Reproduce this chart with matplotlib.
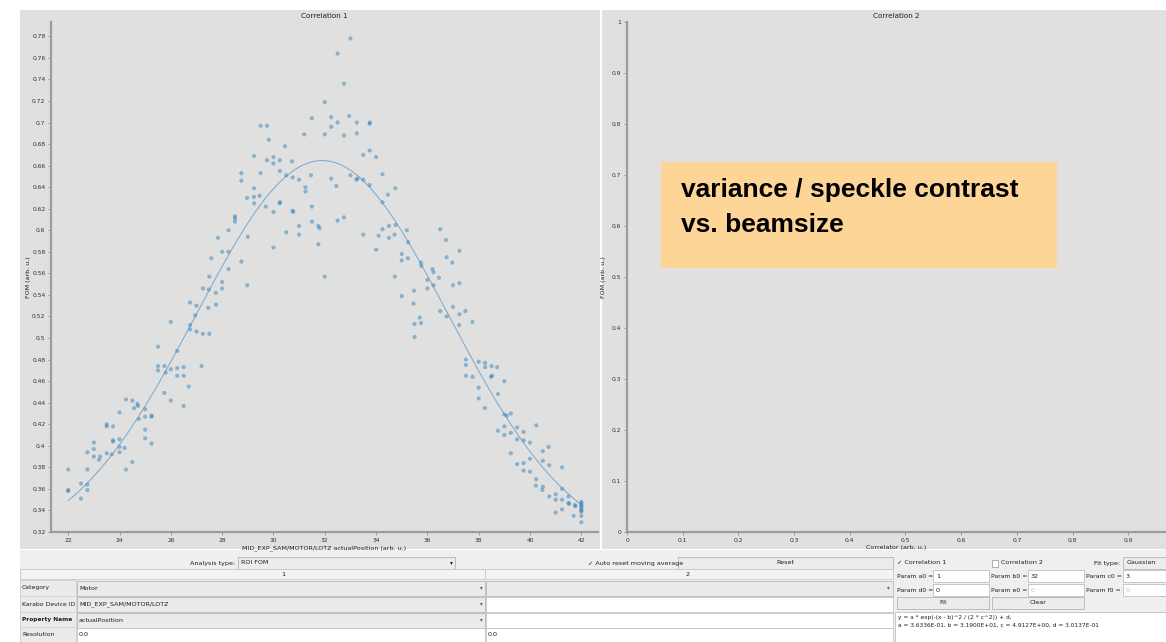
import numpy as np
import matplotlib
matplotlib.use("Agg")
import matplotlib.pyplot as plt
from matplotlib.patches import Rectangle

# motor position (arb. u.) and ROI FOM for every recorded train
position = [
    22.0, 22.0, 22.0, 22.5, 22.5, 22.75, 22.75, 22.75, 22.75,
    23.0, 23.0, 23.0, 23.2, 23.25, 23.5, 23.5, 23.5,
    23.75, 23.75, 23.75, 23.7, 24.0, 24.0, 24.0, 24.0,
    24.2, 24.25, 24.25, 24.5, 24.5, 24.57, 24.7, 24.72, 24.75,
    25.0, 25.0, 25.0, 25.0, 25.25, 25.25, 25.25,
    25.5, 25.5, 25.5, 25.75, 25.75, 25.8, 26.0, 26.0, 26.0,
    26.25, 26.25, 26.25, 26.5, 26.5, 26.5, 26.7, 26.75, 26.75, 26.75,
    26.95, 27.0, 27.0, 27.25, 27.25, 27.2,
    27.48, 27.46, 27.5, 27.5, 27.58, 27.75, 27.76, 27.84,
    28.0, 28.0, 28.0, 28.25, 28.25, 28.25, 28.5, 28.5, 28.5,
    28.75, 28.75, 28.75, 28.97, 29.0, 28.98,
    29.24, 29.24, 29.24, 29.25, 29.46, 29.5, 29.5,
    29.75, 29.82, 29.75, 29.7, 30.0, 30.0, 30.0, 30.0,
    30.25, 30.25, 30.24, 30.26, 30.45, 30.5, 30.5,
    30.72, 30.75, 30.75, 30.77, 31.0, 31.0, 31.0,
    31.2, 31.25, 31.25, 31.46, 31.5, 31.5, 31.5,
    31.75, 31.8, 31.75, 32.0, 32.0, 32.0,
    32.25, 32.25, 32.25, 32.45, 32.5, 32.5, 32.5,
    32.75, 32.75, 32.75, 33.0, 32.95, 33.0,
    33.25, 33.25, 33.23, 33.28, 33.5, 33.5, 33.5,
    33.75, 33.76, 33.75, 33.75, 34.0, 34.0, 34.1,
    34.25, 34.25, 34.25, 34.46, 34.5, 34.5,
    34.72, 34.75, 34.76, 34.73, 35.0, 35.0, 35.0,
    35.2, 35.25, 35.24, 35.48, 35.46, 35.5, 35.5,
    35.75, 35.76, 35.7, 35.75, 36.0, 36.0,
    36.2, 36.24, 36.24, 36.45, 36.5, 36.5,
    36.72, 36.75, 36.75, 36.97, 37.0, 37.0,
    37.25, 37.25, 37.25, 37.24, 37.48, 37.5, 37.5, 37.5,
    37.76, 37.76, 38.0, 38.0, 38.0,
    38.24, 38.25, 38.25, 38.5, 38.48, 38.52,
    38.72, 38.75, 38.75, 39.0, 39.0, 39.0, 39.0,
    39.1, 39.25, 39.25, 39.25, 39.5, 39.5, 39.5,
    39.75, 39.75, 39.75, 39.75, 40.0, 40.0, 40.0,
    40.25, 40.24, 40.23, 40.5, 40.5, 40.5, 40.48,
    40.72, 40.75, 40.75, 41.0, 41.0, 41.0,
    41.25, 41.25, 41.25, 41.25, 41.5, 41.5, 41.52,
    41.75, 41.77, 41.7,
    42.0, 42.0, 42.0, 42.0, 42.0, 42.0, 42.0, 42.0, 42.0,
]
fom = [
    0.378, 0.359, 0.358, 0.365, 0.351, 0.378, 0.364, 0.359, 0.394,
    0.403, 0.397, 0.390, 0.387, 0.390, 0.418, 0.420, 0.393,
    0.418, 0.405, 0.404, 0.392, 0.431, 0.406, 0.399, 0.394,
    0.398, 0.443, 0.378, 0.385, 0.442, 0.435, 0.439, 0.437, 0.425,
    0.434, 0.427, 0.415, 0.407, 0.428, 0.427, 0.402,
    0.492, 0.474, 0.470, 0.449, 0.474, 0.468, 0.515, 0.471, 0.442,
    0.488, 0.472, 0.465, 0.473, 0.465, 0.437, 0.455, 0.533, 0.512, 0.508,
    0.521, 0.530, 0.506, 0.546, 0.504, 0.474,
    0.545, 0.528, 0.504, 0.557, 0.574, 0.542, 0.531, 0.593,
    0.546, 0.552, 0.580, 0.580, 0.600, 0.564, 0.613, 0.611, 0.608,
    0.653, 0.646, 0.571, 0.630, 0.594, 0.549,
    0.669, 0.639, 0.631, 0.625, 0.632, 0.653, 0.697,
    0.697, 0.684, 0.665, 0.622, 0.668, 0.662, 0.617, 0.584,
    0.665, 0.655, 0.625, 0.626, 0.678, 0.651, 0.598,
    0.664, 0.649, 0.618, 0.617, 0.647, 0.604, 0.596,
    0.689, 0.640, 0.636, 0.651, 0.704, 0.622, 0.608,
    0.604, 0.602, 0.587, 0.719, 0.689, 0.557,
    0.705, 0.696, 0.648, 0.641, 0.700, 0.764, 0.609,
    0.736, 0.688, 0.612, 0.778, 0.706, 0.651,
    0.700, 0.690, 0.647, 0.648, 0.647, 0.670, 0.596,
    0.699, 0.700, 0.674, 0.642, 0.668, 0.582, 0.595,
    0.652, 0.626, 0.601, 0.633, 0.604, 0.593,
    0.596, 0.639, 0.605, 0.557, 0.578, 0.572, 0.539,
    0.600, 0.589, 0.574, 0.544, 0.532, 0.513, 0.501,
    0.570, 0.567, 0.519, 0.514, 0.546, 0.554,
    0.564, 0.561, 0.549, 0.556, 0.601, 0.525,
    0.591, 0.575, 0.520, 0.570, 0.549, 0.529,
    0.581, 0.551, 0.522, 0.512, 0.525, 0.480, 0.475, 0.465,
    0.515, 0.464, 0.478, 0.454, 0.444,
    0.435, 0.477, 0.473, 0.474, 0.464, 0.465,
    0.473, 0.448, 0.414, 0.460, 0.429, 0.418, 0.410,
    0.428, 0.430, 0.412, 0.393, 0.417, 0.406, 0.383,
    0.413, 0.405, 0.384, 0.377, 0.403, 0.376, 0.388,
    0.419, 0.369, 0.363, 0.395, 0.386, 0.362, 0.359,
    0.399, 0.382, 0.353, 0.355, 0.350, 0.338,
    0.380, 0.360, 0.350, 0.341, 0.353, 0.347, 0.346,
    0.345, 0.344, 0.335,
    0.348, 0.3465, 0.345, 0.3435, 0.342, 0.340, 0.339, 0.335, 0.329,
]

# gaussian fit result: y = a * exp(-(x - b)^2 / (2 * c^2)) + d
fit_a, fit_b, fit_c, fit_d = 3.6336e-01, 3.1900e+01, 4.9127e+00, 3.0137e-01

W, H = 1166, 642
fig = plt.figure(figsize=(W / 100, H / 100), dpi=100)
plt.rcParams['font.family'] = ['DejaVu Sans']

# pixel-space canvas for the window chrome
bg = fig.add_axes([0, 0, 1, 1], zorder=0)
bg.set_xlim(0, W)
bg.set_ylim(H, 0)
bg.axis('off')


def box(x0, y0, x1, y1, fc, ec='none', lw=0.6, ax=bg):
    ax.add_patch(Rectangle((x0, y0), x1 - x0, y1 - y0, facecolor=fc,
                           edgecolor=ec, linewidth=lw))


def txt(x, y, s, size=4.6, ha='left', color='#1e1e1e', ax=bg, **kw):
    ax.text(x, y, s, fontsize=size, ha=ha, va='center', color=color, **kw)


# plot widget backgrounds
box(20, 10, 600, 549, '#e0e0e0')
box(602, 10, 1166, 549, '#e0e0e0')


def style(ax):
    ax.set_facecolor('#e0e0e0')
    for s in ['top', 'right']:
        ax.spines[s].set_visible(False)
    for s in ['left', 'bottom']:
        ax.spines[s].set_color('#9c9c9c')
        ax.spines[s].set_linewidth(1.6)
    ax.tick_params(labelsize=4.3, length=2.5, width=0.6, color='#8c8c8c',
                   labelcolor='#303030', pad=1.5)


# Correlation 1: FOM vs motor position with gaussian fit
ax1 = fig.add_axes([51 / W, 1 - 532 / H, 547 / W, 510 / H], zorder=1)
style(ax1)
ax1.scatter(position, fom, s=9, color='#1f77b4', alpha=0.45, edgecolors='none')
xf = np.linspace(min(position), max(position), 300)
yf = fit_a * np.exp(-(xf - fit_b) ** 2 / (2 * fit_c ** 2)) + fit_d
ax1.plot(xf, yf, color='#4a90c8', lw=0.7, alpha=0.7)
ax1.set_xlim(21.33, 42.65)
ax1.set_ylim(0.32, 0.7933)
ax1.set_xticks(np.arange(22, 43, 2))
yt = np.round(np.arange(0.32, 0.781, 0.02), 2)
ax1.set_yticks(yt)
ax1.set_yticklabels([f"{v:g}" for v in yt])
ax1.set_title('Correlation 1', fontsize=5.2, pad=3, color='#202020')
ax1.set_xlabel('MID_EXP_SAM/MOTOR/LOTZ actualPosition (arb. u.)',
               fontsize=4.6, labelpad=2, color='#202020')
ax1.set_ylabel('FOM (arb. u.)', fontsize=4.6, labelpad=1, color='#202020')

# Correlation 2: empty
ax2 = fig.add_axes([627 / W, 1 - 532 / H, 539 / W, 510 / H], zorder=1)
style(ax2)
ax2.set_xlim(0, 0.9677)
ax2.set_ylim(0, 1.0)
xt = np.round(np.arange(0, 0.91, 0.1), 1)
ax2.set_xticks(xt)
ax2.set_xticklabels([f"{v:g}" for v in xt])
yt2 = np.round(np.arange(0, 1.01, 0.1), 1)
ax2.set_yticks(yt2)
ax2.set_yticklabels([f"{v:g}" for v in yt2])
ax2.set_title('Correlation 2', fontsize=5.2, pad=3, color='#202020')
ax2.set_xlabel('Correlator (arb. u.)', fontsize=4.6, labelpad=2, color='#202020')
ax2.set_ylabel('FOM (arb. u.)', fontsize=4.6, labelpad=4, color='#202020')

# annotation box on top of the second plot
top = fig.add_axes([0, 0, 1, 1], zorder=5)
top.set_xlim(0, W)
top.set_ylim(H, 0)
top.axis('off')
box(661, 162, 1057, 268, '#fdd597', ax=top)
top.text(681, 178, 'variance / speckle contrast\nvs. beamsize', fontsize=19,
         fontweight='bold', family='Liberation Sans', ha='left', va='top',
         linespacing=1.6, color='black')

# control panel
box(20, 550, 1166, 642, '#efefef')
txt(235, 563, 'Analysis type:', ha='right')
box(238, 557, 455, 569, '#ececec', '#b4b4b4')
txt(241, 563, 'ROI FOM')
txt(451, 563, '▾', ha='center', size=4)
txt(588, 563, '✓ Auto reset moving average')
box(678, 557, 893, 569, '#ececec', '#b4b4b4')
txt(785, 563, 'Reset', ha='center')

box(20, 569, 485, 579, '#f3f3f3', '#c8c8c8')
box(485, 569, 893, 579, '#f3f3f3', '#c8c8c8')
txt(283, 574, '1', ha='center')
txt(688, 574, '2', ha='center')

row_names = ['Category', 'Karabo Device ID', 'Property Name', 'Resolution']
col1_values = ['Motor', 'MID_EXP_SAM/MOTOR/LOTZ', 'actualPosition', '0.0']
col2_values = ['', '', '', '0.0']
row_y = [588, 604, 620, 635]
for i, yc in enumerate(row_y):
    y0, y1 = yc - 8, yc + 8
    box(20, y0, 76, y1, '#ebebeb', '#d0d0d0')
    if i == 2:
        txt(22, yc, row_names[i], size=4.2, fontweight='bold')
    else:
        txt(22, yc, row_names[i], size=4.4)
    if i < 3:
        box(77, y0 + 0.5, 485, y1 - 0.5, '#ebebeb', '#b8b8b8')
        txt(481, yc, '▾', ha='center', size=4, color='#606060')
    else:
        box(77, y0 + 0.5, 485, y1 - 0.5, 'white', '#c4c4c4')
    txt(79, yc, col1_values[i])
    if i == 0:
        box(486, y0 + 0.5, 893, y1 - 0.5, '#ebebeb', '#b8b8b8')
        txt(888, yc, '▾', ha='center', size=4, color='#606060')
    else:
        box(486, y0 + 0.5, 893, y1 - 0.5, 'white', '#c4c4c4')
    txt(488, yc, col2_values[i])

# fit controls
txt(897, 563, '✓ Correlation 1')
box(992, 559.5, 998, 566.5, 'white', '#909090', lw=0.5)
txt(1001, 563, 'Correlation 2')
txt(1120, 563, 'Fit type:', ha='right')
box(1123, 557, 1166, 569, '#ececec', '#b4b4b4')
txt(1127, 563, 'Gaussian')

params = [
    [('Param a0 = ', '1', True), ('Param b0 = ', '32', True), ('Param c0 = ', '3', True)],
    [('Param d0 = ', '0', True), ('Param e0 = ', '0', False), ('Param f0 = ', '0', False)],
]
param_cols = [(897, 933, 989), (991, 1028, 1084), (1086, 1123, 1166)]
for yc, row in zip([576, 590], params):
    for (name, val, enabled), (xl, xb0, xb1) in zip(row, param_cols):
        txt(xl, yc, name, size=4.4)
        box(xb0, yc - 6, xb1, yc + 6, 'white', '#c0c0c0')
        txt(xb0 + 3, yc, val, color='#1e1e1e' if enabled else '#c0c0c0')

box(897, 597, 989, 609, '#ececec', '#b4b4b4')
txt(943, 603, 'Fit', ha='center')
box(992, 597, 1084, 609, '#ececec', '#b4b4b4')
txt(1038, 603, 'Clear', ha='center')

box(895, 612, 1166, 642, 'white', '#c0c0c0')
txt(898, 618, 'y = a * exp(-(x - b)^2 / (2 * c^2)) + d,', size=4.2)
txt(898, 625, f'a = {fit_a:.4E}, b = {fit_b:.4E}, c = {fit_c:.4E}, d = {fit_d:.4E}',
    size=4.2)

fig.savefig('out.png', dpi=100, facecolor='white')
